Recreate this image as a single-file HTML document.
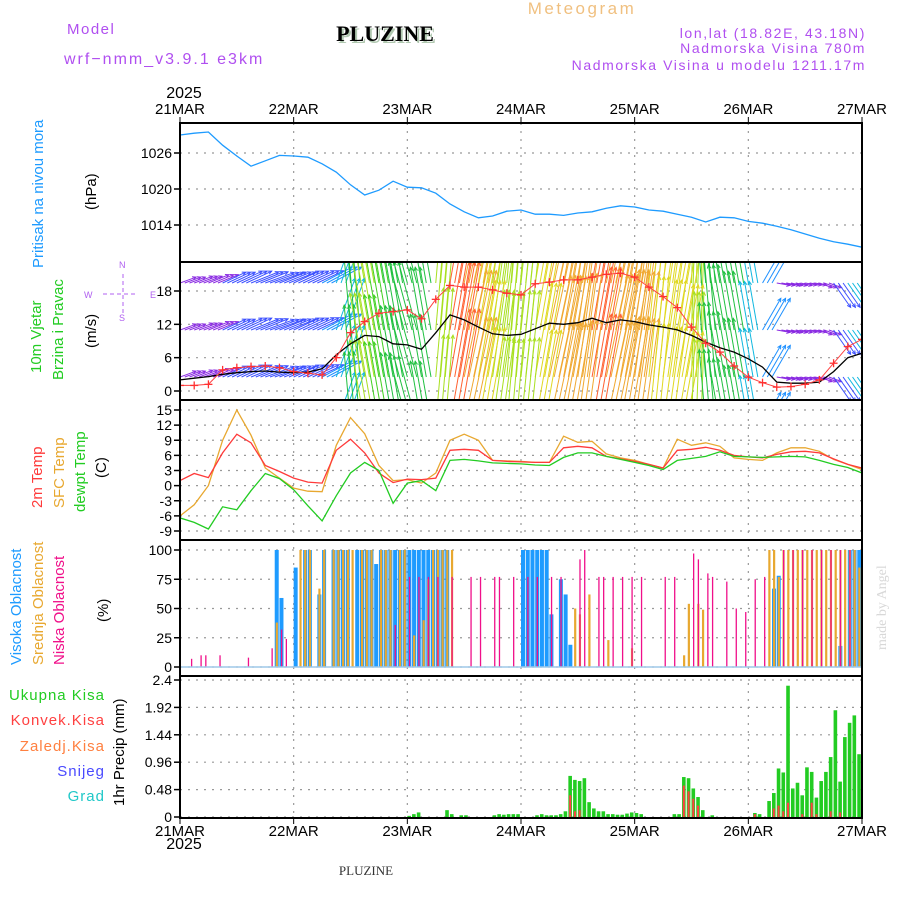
<!DOCTYPE html>
<html><head><meta charset="utf-8"><style>
html,body{margin:0;padding:0;background:#fff;}
svg{display:block;font-family:"Liberation Sans",sans-serif;}
</style></head><body>
<svg id="chart" width="900" height="900" viewBox="0 0 900 900">
<defs>
<clipPath id="cpP"><rect x="180" y="123" width="682" height="139"/></clipPath>
<clipPath id="cpW"><rect x="180" y="262" width="682" height="138"/></clipPath>
<clipPath id="cpT"><rect x="180" y="400" width="682" height="140"/></clipPath>
<clipPath id="cpC"><rect x="180" y="540" width="682" height="136"/></clipPath>
<clipPath id="cpR"><rect x="180" y="676" width="682" height="142"/></clipPath>
</defs>
<g>
<text x="67" y="34" font-size="15" fill="#b04ff0" letter-spacing="1.5">Model</text>
<text x="64" y="64" font-size="16" fill="#b04ff0" letter-spacing="2">wrf−nmm_v3.9.1 e3km</text>
<text x="387" y="43" font-size="22" font-weight="bold" font-family="Liberation Serif, serif" fill="#b0c8b0" text-anchor="middle">PLUZINE</text>
<text x="385" y="41" font-size="22" font-weight="bold" font-family="Liberation Serif, serif" fill="#000" text-anchor="middle">PLUZINE</text>
<text x="582" y="14" font-size="17" fill="#f0c080" text-anchor="middle" letter-spacing="2.5">Meteogram</text>
<text x="866" y="38" font-size="14" fill="#b04ff0" text-anchor="end" letter-spacing="1.6">lon,lat (18.82E, 43.18N)</text>
<text x="866" y="53" font-size="14" fill="#b04ff0" text-anchor="end" letter-spacing="1.6">Nadmorska Visina 780m</text>
<text x="866" y="70" font-size="14" fill="#b04ff0" text-anchor="end" letter-spacing="1.6">Nadmorska Visina u modelu 1211.17m</text>
<text x="184" y="98" font-size="16" fill="#000" text-anchor="middle">2025</text>
<text x="184" y="849" font-size="16" fill="#000" text-anchor="middle">2025</text>
<text x="366" y="875" font-size="13" font-family="Liberation Serif, serif" fill="#333" text-anchor="middle">PLUZINE</text>
<text transform="translate(886,650) rotate(-90)" font-size="14" font-family="Liberation Serif, serif" fill="#d8d8d8">made by Angel</text>
</g>
<g>
<text transform="translate(43,268) rotate(-90)" font-size="15" fill="#1e9bff">Pritisak na nivou mora</text>
<text transform="translate(96,210) rotate(-90)" font-size="15" fill="#000">(hPa)</text>
<text transform="translate(41,373) rotate(-90)" font-size="15" fill="#22cc22">10m Vjetar</text>
<text transform="translate(63,380) rotate(-90)" font-size="15" fill="#22cc22">Brzina i Pravac</text>
<text transform="translate(96,348) rotate(-90)" font-size="15" fill="#000">(m/s)</text>
<g fill="#b060f0" stroke="#b060f0" font-size="9">
<text x="84" y="298" stroke="none">W</text><text x="150" y="298" stroke="none">E</text>
<text x="119" y="268" stroke="none">N</text><text x="119" y="321" stroke="none">S</text>
<line x1="103" y1="294" x2="137" y2="294" stroke-dasharray="4 3"/><line x1="123" y1="274" x2="123" y2="315" stroke-dasharray="4 3"/>
</g>
<text transform="translate(42,508) rotate(-90)" font-size="15" fill="#ff3a3a">2m Temp</text>
<text transform="translate(64,508) rotate(-90)" font-size="15" fill="#e8a830">SFC Temp</text>
<text transform="translate(85,512) rotate(-90)" font-size="15" fill="#22cc22">dewpt Temp</text>
<text transform="translate(106,478) rotate(-90)" font-size="15" fill="#000">(C)</text>
<text transform="translate(21,665) rotate(-90)" font-size="15" fill="#1e9bff">Visoka Oblacnost</text>
<text transform="translate(43,665) rotate(-90)" font-size="15" fill="#e8a830">Srednja Oblacnost</text>
<text transform="translate(64,665) rotate(-90)" font-size="15" fill="#f0108a">Niska Oblacnost</text>
<text transform="translate(108,622) rotate(-90)" font-size="15" fill="#000">(%)</text>
<text x="105" y="700" font-size="15" fill="#22cc22" text-anchor="end" letter-spacing="1">Ukupna Kisa</text>
<text x="105" y="725" font-size="15" fill="#ff4040" text-anchor="end" letter-spacing="1">Konvek.Kisa</text>
<text x="105" y="751" font-size="15" fill="#ff8040" text-anchor="end" letter-spacing="1">Zaledj.Kisa</text>
<text x="105" y="776" font-size="15" fill="#4a4aff" text-anchor="end" letter-spacing="1">Snijeg</text>
<text x="105" y="801" font-size="15" fill="#20c8c8" text-anchor="end" letter-spacing="1">Grad</text>
<text transform="translate(124,806) rotate(-90)" font-size="15" fill="#000">1hr Precip (mm)</text>
</g>
<g id="plots"></g>
</svg>
<script>
// ---------- data ----------
var dayLabels = ["21MAR","22MAR","23MAR","24MAR","25MAR","26MAR","27MAR"];
// 3-hourly series (49 points, 0..144 h)
var pressure = [1029,1029.3,1029.5,1027.3,1025.5,1023.8,1024.7,1025.6,1025.5,1025.3,1024.2,1022.8,1020.7,1019.0,1019.8,1021.3,1020.3,1020.2,1019.3,1017.5,1016.2,1015.2,1015.5,1016.3,1016.5,1015.8,1015.8,1015.6,1016.0,1016.2,1016.8,1017.2,1017.0,1016.5,1016.3,1015.8,1015.3,1014.5,1015.3,1015.2,1014.6,1014.3,1013.8,1013.2,1012.5,1011.8,1011.2,1010.8,1010.3];
var windSpeed = [2,2.3,2.6,3,3.3,3.5,3.6,3.4,3.3,3.4,4,6.5,8.5,10,9.8,8.5,8.3,7.5,10.5,13.7,12.8,11.5,10.3,10,10.2,11.2,12.2,12,12.3,13.1,12.3,12.8,12.5,11.9,11.5,11,10,8.8,7.8,7.0,5.8,4.3,1.6,1.4,1.4,1.6,3.5,6,6.8];
var windGust = [1,1,1.2,3.8,4.2,4.4,4.5,4.2,3.5,3.2,2.9,6,10.5,12.5,14,14.3,14.6,13,16.5,19,18.7,18.7,18.2,17.6,17.3,19.3,19.6,20,20,20.5,21,21.2,20.5,18.7,17,15,11.5,8.6,7,4.5,2.5,1.5,0.7,0.8,1.2,2,5,8,9.3];
var windDir = [20,20,22,25,25,22,20,22,25,25,28,70,95,100,100,100,105,100,85,80,78,80,82,85,84,80,78,80,82,80,78,80,82,84,82,80,88,95,100,100,100,60,-10,-12,-10,-20,-55,-55,-50];
var tempT2 = [1.0,2.4,1.6,6.5,10.2,8.5,4,2.8,1.5,0.7,0.5,7,9.2,6.5,2.5,0.6,1.3,1.2,1.5,7,7.2,7,5,4.8,4.7,4.6,4.6,7.5,7.8,7.5,5.8,5.3,4.8,4.2,3.5,7,7.2,7.6,7,6,5.7,5.5,6.2,6.7,6.8,6.5,5.3,4.2,3.5];
var tempSfc = [-6,-3.8,0,9,15,10,3.5,1.5,-0.5,-1.1,-1.2,8,13.5,10.3,4,1,1.2,0.5,2.5,9,10.2,9,5,4.9,4.8,4.6,4.6,9.8,8.6,8.8,6.3,5.5,5,4.2,3.5,9.2,8,8.5,7.8,5.5,5.2,5,6.5,7.5,7.5,6.8,5.2,4.2,3.2];
var tempDew = [-6.4,-7.3,-8.6,-4.2,-4.8,-1,2.4,1.4,-0.8,-4,-7,-2,2.5,4.6,3,-3.5,0.5,1.0,-1,5,5.2,4.9,4.5,4.4,4.3,4.1,4.0,5.6,6.5,6.5,5.8,5.2,4.6,4,3.2,5,5.4,5.8,6.7,5.8,5.7,5.6,5.7,5.8,5.7,5,4.2,3.6,2.5];
// hourly cloud cover (%), hours 0..143
var cloudHigh = new Array(144).fill(0);
var cloudMid = new Array(144).fill(0);
var cloudLow = new Array(144).fill(0);
var highList = [[20,100],[21,59],[24,85],[26,100],[27,100],[29,62],[30,100],[32,100],[33,100],[34,100],[35,100],[37,100],[38,100],[39,100],[40,100],[41,88],[42,100],[43,100],[44,100],[45,100],[46,100],[47,100],[48,100],[49,100],[50,100],[51,100],[52,100],[53,100],[54,100],[55,100],[56,100],[72,100],[73,100],[74,100],[75,100],[76,100],[77,100],[78,45],[80,75],[81,62],[82,19],[125,67],[126,78],[139,18],[141,100],[142,100],[143,100]];
var midList = [[20,38],[25,100],[26,100],[27,100],[29,67],[30,100],[32,100],[33,100],[34,100],[35,100],[36,100],[38,100],[39,100],[40,100],[42,100],[43,100],[44,100],[46,100],[47,100],[49,27],[51,40],[52,75],[53,100],[54,100],[55,100],[56,100],[57,100],[83,50],[84,45],[86,62],[90,23],[95,16],[106,10],[107,54],[109,54],[110,49],[124,100],[125,100],[126,77],[127,100],[128,100],[129,100],[130,100],[131,100],[132,100],[133,100],[134,100],[135,100],[136,100],[137,100],[138,100],[139,100],[140,100],[141,100],[142,100],[143,85]];
var lowList = [[2,7],[4,10],[5,10],[8,10],[14,8],[19,16],[21,32],[22,24],[45,36],[48,77],[50,77],[52,77],[54,77],[57,77],[61,77],[63,77],[66,77],[67,77],[70,77],[73,77],[75,77],[78,77],[80,77],[84,92],[85,100],[88,77],[89,77],[91,77],[93,77],[95,77],[97,77],[102,77],[104,77],[108,97],[109,92],[111,80],[112,77],[115,73],[117,50],[119,47],[121,75],[123,77],[127,100],[129,100],[131,100],[133,100],[135,100],[137,100],[139,100],[141,100]];
highList.forEach(function(p){cloudHigh[p[0]]=p[1];});
midList.forEach(function(p){cloudMid[p[0]]=p[1];});
lowList.forEach(function(p){cloudLow[p[0]]=p[1];});
// hourly precipitation (mm)
var precipTotal = new Array(144).fill(0);
var precipConv = new Array(144).fill(0);
var totalList = [[48,0.02],[49,0.05],[50,0.08],[56,0.12],[57,0.05],[59,0.03],[60,0.03],[66,0.03],[67,0.05],[68,0.04],[69,0.05],[70,0.05],[71,0.05],[75,0.03],[76,0.05],[77,0.03],[78,0.03],[79,0.03],[80,0.05],[81,0.1],[82,0.72],[83,0.65],[84,0.63],[85,0.68],[86,0.26],[87,0.15],[88,0.1],[89,0.1],[90,0.05],[91,0.05],[92,0.04],[93,0.04],[94,0.06],[95,0.08],[96,0.07],[97,0.05],[104,0.05],[105,0.05],[106,0.7],[107,0.68],[108,0.5],[109,0.35],[110,0.12],[112,0.03],[121,0.07],[122,0.05],[124,0.28],[125,0.42],[126,0.85],[127,0.78],[128,2.3],[129,0.5],[130,0.6],[131,0.38],[132,0.87],[133,0.79],[134,0.34],[135,0.63],[136,0.79],[137,1.05],[138,1.87],[139,0.62],[140,1.4],[141,1.65],[142,1.78],[143,1.1]];
var convList = [[82,0.38],[83,0.1],[84,0.12],[106,0.55],[107,0.45],[108,0.32],[109,0.2],[121,0.05],[125,0.15],[126,0.2],[127,0.1],[128,0.25],[131,0.05],[133,0.25],[134,0.05],[137,0.1],[139,0.08]];
totalList.forEach(function(p){precipTotal[p[0]]=p[1];});
convList.forEach(function(p){precipConv[p[0]]=p[1];});
var pTicks=[1026,1020,1014], wTicks=[18,12,6,0], tTicks=[15,12,9,6,3,0,-3,-6,-9], cTicks=[100,75,50,25,0];
var rTicks=[2.4,1.92,1.44,0.96,0.48,0], rTickLabels=["2.4","1.92","1.44","0.96","0.48","0"];

// ---------- scales ----------
var X0=180,X1=862;
function xH(h){return X0+h*(X1-X0)/144;}
function yP(p){return 153-(p-1026)*6;}
function yW(s){return 391-s*100/18;}
function yT(t){return 410+(15-t)*121/24;}
function yC(c){return 667-c*1.17;}
function yR(r){return 817-r*137/2.4;}
var NS="http://www.w3.org/2000/svg";
var plots=document.getElementById('plots');
function mk(tag,attrs,parent){var e=document.createElementNS(NS,tag);for(var k in attrs)e.setAttribute(k,attrs[k]);(parent||plots).appendChild(e);return e;}
var panels=[[123,262,'cpP'],[262,400,'cpW'],[400,540,'cpT'],[540,676,'cpC'],[676,818,'cpR']];

// grid
var grid=mk('g',{stroke:'#999','stroke-width':1.2,'stroke-dasharray':'2 6'});


for(var d=1;d<6;d++){mk('line',{x1:xH(d*24),x2:xH(d*24),y1:123,y2:818},grid);}
function hgrid(ticks,fy,labels,nm){
  var g=mk('g',{});
  
  
  ticks.forEach(function(t,i){var y=fy(t);
    mk('line',{x1:X0,x2:X1,y1:y,y2:y,stroke:'#999','stroke-width':1.2,'stroke-dasharray':'2 6'},g);
    mk('line',{x1:X0-6,x2:X0,y1:y,y2:y,stroke:'#000','stroke-width':1.5},g);
    var tx=mk('text',{x:X0-8,y:y+5,'font-size':14,'text-anchor':'end',fill:'#000'},g);
    tx.textContent=labels?labels[i]:String(t);
  });
}
hgrid(pTicks,yP,null,'pressure-y-axis');
hgrid(wTicks,yW,null,'wind-y-axis');
hgrid(tTicks,yT,null,'temp-y-axis');
hgrid(cTicks,yC,null,'cloud-y-axis');
hgrid(rTicks,yR,rTickLabels,'precip-y-axis');

// pressure line
function line(arr,fy,color,clip,nm,w){
  var pts=arr.map(function(v,i){return xH(i*3).toFixed(1)+','+fy(v).toFixed(1);}).join(' ');
  var e=mk('polyline',{points:pts,fill:'none',stroke:color,'stroke-width':w||1.3,'clip-path':'url(#'+clip+')'});
  
  
  return e;
}
line(pressure,yP,'#1e9bff','cpP','pressure-line');

// wind arrows
function wcol(s){if(s<3)return'#8a2be2';if(s<4)return'#3c50ff';if(s<5)return'#1e90ff';if(s<7)return'#10b8e0';if(s<9)return'#20c040';if(s<10)return'#40d020';if(s<11)return'#a8e020';if(s<12)return'#e0d820';if(s<13)return'#f0a830';return'#ff6030';}
var wg=mk('g',{'clip-path':'url(#cpW)','stroke-width':1});


var rows=[283,330,377,424];
rows.forEach(function(yb){
  for(var h=0;h<144;h++){
    var i=Math.floor(h/3), s=windSpeed[i], a=windDir[i]*Math.PI/180, L=s*8.5;
    var x0=xH(h), x1=x0+L*Math.cos(a), y1=yb-L*Math.sin(a), c=wcol(s);
    mk('line',{x1:x0,y1:yb,x2:x1,y2:y1,stroke:c},wg);
    var hl=4, b1=a+Math.PI-0.45, b2=a+Math.PI+0.45;
    mk('polyline',{points:(x1+hl*Math.cos(b1))+','+(y1-hl*Math.sin(b1))+' '+x1+','+y1+' '+(x1+hl*Math.cos(b2))+','+(y1-hl*Math.sin(b2)),fill:'none',stroke:c},wg);
  }
});
line(windSpeed,yW,'#000','cpW','wind-speed-line',1.3);
line(windGust,yW,'#ff4040','cpW','wind-gust-line',1);
var gg=mk('g',{stroke:'#ff3030','stroke-width':1.3,'clip-path':'url(#cpW)'});


windGust.forEach(function(v,i){var x=xH(i*3),y=yW(v);
  mk('line',{x1:x-4,x2:x+4,y1:y,y2:y},gg);mk('line',{x1:x,x2:x,y1:y-4,y2:y+4},gg);});

// temperatures
line(tempSfc,yT,'#e8a830','cpT','sfc-temp-line');
line(tempT2,yT,'#ff3a3a','cpT','t2-temp-line');
line(tempDew,yT,'#22cc22','cpT','dewpoint-line');

// cloud bars
function bars(arr,fy,color,w,off,clip,nm){
  var g=mk('g',{fill:color,'clip-path':'url(#'+clip+')'});
  
  
  arr.forEach(function(v,h){if(v<=0)return;var y=fy(v),y0=fy(0);
    mk('rect',{x:xH(h)+off,y:y,width:w,height:Math.max(0.5,y0-y)},g);});
}
bars(cloudHigh,yC,'#1e9bff',4,0,'cpC','high-cloud-bars');
bars(cloudMid,yC,'#e8a830',2.2,1,'cpC','mid-cloud-bars');
bars(cloudLow,yC,'#f0108a',1.3,1.5,'cpC','low-cloud-bars');
var bl=mk('line',{x1:X0,x2:X1,y1:yC(0),y2:yC(0),stroke:'#9ec8e8','stroke-width':1.5});



// precip bars
bars(precipTotal,yR,'#22cc22',3.6,0,'cpR','total-precip-bars');
bars(precipConv,yR,'#ff4040',2,0.8,'cpR','convective-precip-bars');

// panel borders
panels.forEach(function(p,i){
  var r=mk('rect',{x:X0,y:p[0],width:X1-X0,height:p[1]-p[0],fill:'none',stroke:'#000','stroke-width':2});
  
  
});
// date labels
dayLabels.forEach(function(lb,d){var x=xH(d*24);
  var t=mk('text',{x:x,y:114,'font-size':15,'text-anchor':'middle',fill:'#000'});t.textContent=lb;
  
  
  var b=mk('text',{x:x,y:836,'font-size':15,'text-anchor':'middle',fill:'#000'});b.textContent=lb;
  
  
  mk('line',{x1:x,x2:x,y1:117,y2:123,stroke:'#000'});
  mk('line',{x1:x,x2:x,y1:818,y2:824,stroke:'#000'});
});
</script>
</body></html>
